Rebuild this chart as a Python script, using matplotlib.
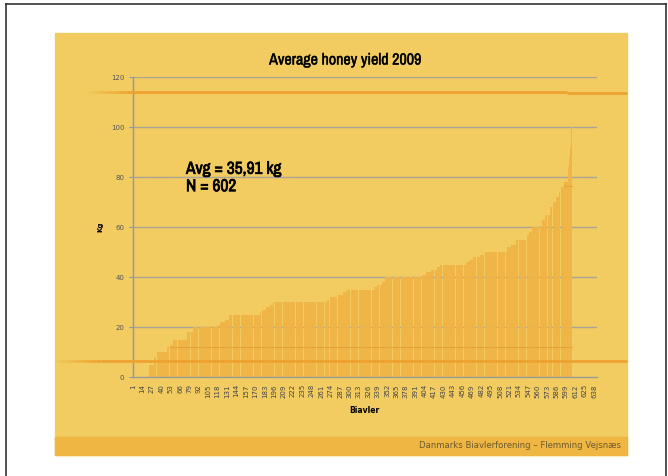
"""Average honey yield 2009 - slide style sorted bar chart."""

import numpy as np
import matplotlib
matplotlib.use('Agg')
import matplotlib.pyplot as plt
import matplotlib.patheffects as pe
from matplotlib.patches import Rectangle
from matplotlib.lines import Line2D

# sorted yields (kg), read as runs of equal values: value, number of bars
run_values = [0, 2, 5, 8, 10, 12, 13, 15, 18, 20, 21, 22, 23, 25, 26, 27, 28, 29,
              30, 31, 32, 33, 34, 35, 36, 37, 38, 40, 41, 42, 43, 44, 45, 46, 47,
              48, 49, 50, 52, 53, 55, 57, 58, 60, 63, 65, 68, 70, 72, 74, 76, 78,
              81, 84, 88, 92, 95, 100]
run_counts = [21, 2, 6, 4, 15, 4, 4, 19, 9, 33, 4, 6, 6, 43, 3, 5, 6, 4,
              74, 5, 11, 7, 5, 37, 4, 7, 5, 51, 5, 7, 8, 4, 37, 4, 5,
              10, 6, 31, 5, 7, 15, 3, 5, 14, 3, 8, 4, 4, 4, 3, 4, 5,
              1, 1, 1, 1, 1, 1]
yields = np.repeat(run_values, run_counts)
positions = np.arange(1, len(yields) + 1)

n_categories = 641
tick_labels = [str(i) for i in range(1, n_categories + 1, 13)]
y_ticks = [0, 20, 40, 60, 80, 100, 120]

title = "Average honey yield 2009"
stats_text = "Avg = 35,91 kg\nN = 602"
footer = "Danmarks Biavlerforening \u2013 Flemming Vejsnæs"

W, H = 668, 476
GOLD = '#F2CC60'
BAND = '#F0B644'
BAR = '#EFB445'
LINE = '#EEA230'
NARROW = ['Archivo Narrow', 'DejaVu Sans']


def fx(x):
    return x / W


def fy(y):
    return 1 - y / H


def fade_line(fig, x0, x1, y, steps=12):
    # decoration line fading in from the left
    xs = np.linspace(x0, x1, steps + 1)
    for i in range(steps):
        fig.add_artist(Line2D([fx(xs[i]), fx(xs[i + 1])], [fy(y), fy(y)],
                              color=LINE, lw=2, alpha=(i + 1) / steps,
                              solid_capstyle='butt', zorder=5))


fig = plt.figure(figsize=(W / 100, H / 100), dpi=100)
fig.patch.set_facecolor('white')

# slide frame and panels
fig.add_artist(Line2D([fx(5.5), fx(5.5)], [fy(3.5), 0], color='#333333', lw=1.2))
fig.add_artist(Line2D([fx(5.5), fx(666)], [fy(3.5), fy(3.5)], color='#333333', lw=1.2))
fig.add_artist(Line2D([fx(666), fx(666)], [fy(3.5), 0], color='#333333', lw=1.2))
fig.add_artist(Rectangle((fx(55), fy(455)), fx(627) - fx(55), fy(33) - fy(455),
                         color=GOLD, zorder=0))
fig.add_artist(Rectangle((fx(55), fy(455)), fx(627) - fx(55), fy(437) - fy(455),
                         color=BAND, zorder=1))

ax = fig.add_axes([fx(132.6), fy(377.3), fx(596.7) - fx(132.6), fy(77) - fy(377.3)])
ax.set_facecolor('none')
ax.set_xlim(0.5, n_categories + 0.5)
ax.set_ylim(0, 120)

for yv in y_ticks[1:]:
    ax.axhline(yv, color='#A8A49A', lw=1, zorder=1)

ax.bar(positions, yields, width=0.9, color=BAR, alpha=0.95, linewidth=0, zorder=2)

# faint lines seen through the bars
for level in (12.2, 76.5):
    idx = np.where(yields > level)[0]
    ax.plot([positions[idx[0]] - 0.5, positions[idx[-1]] + 0.5], [level, level],
            color='#E6A336', lw=0.8, zorder=3)

ax.set_yticks(y_ticks)
ax.set_yticklabels([str(v) for v in y_ticks], fontsize=5, color='#555555')
ax.set_xticks(np.arange(1, n_categories + 1, 13))
ax.set_xticklabels(tick_labels, rotation=90, fontsize=5, color='#444444')
ax.tick_params(axis='y', length=3, width=0.8, color='#8E96AA', pad=3)
ax.tick_params(axis='x', length=0, pad=5)

for s in ['top', 'right']:
    ax.spines[s].set_visible(False)
ax.spines['left'].set_color('#8E96AA')
ax.spines['left'].set_linewidth(1)
ax.spines['bottom'].set_color('#9A9A9A')
ax.spines['bottom'].set_linewidth(1)

ax.set_ylabel("Kg", fontsize=5, fontweight='bold', labelpad=5)
ax.set_xlabel("Biavler", fontsize=5.5, fontweight='bold', labelpad=6)

# the narrow face only has one weight, so a thin stroke makes it heavier
fig.text(fx(345), fy(60), title, fontsize=11.5, family=NARROW, ha='center', va='center',
         path_effects=[pe.withStroke(linewidth=0.3, foreground='black')])
fig.text(fx(186), fy(178), stats_text, fontsize=12.5, family=NARROW, ha='left',
         va='center', linespacing=1.2,
         path_effects=[pe.withStroke(linewidth=0.5, foreground='black')])
fig.text(fx(621), fy(446), footer, fontsize=6.1, color='#6B5A2C', ha='right', va='center')

# orange slide decoration lines
fade_line(fig, 87, 130, 92)
fig.add_artist(Line2D([fx(130), fx(567)], [fy(92), fy(92)], color=LINE, lw=2,
                      solid_capstyle='butt', zorder=5))
fig.add_artist(Line2D([fx(567), fx(627)], [fy(93.3), fy(93.3)], color=LINE, lw=2,
                      solid_capstyle='butt', zorder=5))
fade_line(fig, 55, 100, 361)
fig.add_artist(Line2D([fx(100), fx(627)], [fy(361), fy(361)], color=LINE, lw=2,
                      solid_capstyle='butt', zorder=5))

fig.savefig('out.png', dpi=100)
